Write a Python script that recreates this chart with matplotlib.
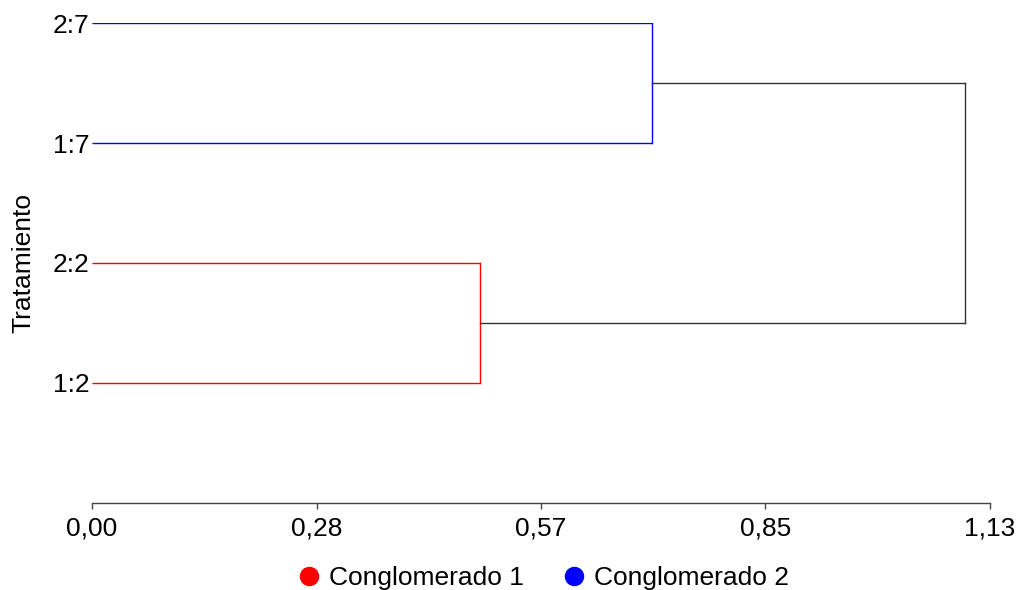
import numpy as np
import matplotlib
matplotlib.use("Agg")
import matplotlib.pyplot as plt
from matplotlib.lines import Line2D

# leaves from bottom to top, cluster of each leaf and merge heights
leaves = ["1:2", "2:2", "1:7", "2:7"]
leaf_cluster = [1, 1, 2, 2]
merge_c1 = 0.488    # 1:2 + 2:2
merge_c2 = 0.705    # 1:7 + 2:7
merge_root = 1.099  # both clusters
xticks = [0.0, 0.2825, 0.565, 0.8475, 1.13]
xtick_labels = ["0,00", "0,28", "0,57", "0,85", "1,13"]
cluster_names = ["Conglomerado 1", "Conglomerado 2"]
cluster_colors = {1: "#ff0000", 2: "#0000ff"}

plt.rcParams["font.family"] = ["Liberation Sans", "DejaVu Sans"]

fig = plt.figure(figsize=(10.19, 5.90), dpi=100)
ax = fig.add_axes([0.0903, 0.1475, 0.8812, 0.8135])

lw = 1.0
ypos = np.arange(1, len(leaves) + 1)

# leaf branches
for y, c in zip(ypos, leaf_cluster):
    h = merge_c1 if c == 1 else merge_c2
    ax.plot([0, h], [y, y], color=cluster_colors[c], lw=lw, solid_capstyle="butt")

# cluster verticals
y1 = ypos[np.array(leaf_cluster) == 1]
y2 = ypos[np.array(leaf_cluster) == 2]
ax.plot([merge_c1, merge_c1], [y1.min(), y1.max()], color=cluster_colors[1], lw=lw)
ax.plot([merge_c2, merge_c2], [y2.min(), y2.max()], color=cluster_colors[2], lw=lw)

# joining branches
m1, m2 = y1.mean(), y2.mean()
ax.plot([merge_c1, merge_root], [m1, m1], color="#333333", lw=lw)
ax.plot([merge_c2, merge_root], [m2, m2], color="#333333", lw=lw)
ax.plot([merge_root, merge_root], [m1, m2], color="#333333", lw=lw)

ax.set_xlim(0, 1.13)
ax.set_ylim(0, 4)
ax.set_xticks(xticks)
ax.set_xticklabels(xtick_labels)
ax.set_yticks(ypos)
ax.set_yticklabels(leaves)

for s in ["top", "right", "left"]:
    ax.spines[s].set_visible(False)
ax.spines["bottom"].set_color("#444444")
ax.spines["bottom"].set_linewidth(1.0)
ax.tick_params(axis="x", length=4, width=1.0, color="#444444", labelsize=19, pad=6)
ax.tick_params(axis="y", length=0, labelsize=19, pad=2)
ax.set_ylabel("Tratamiento", fontsize=19, labelpad=12)

handles = [Line2D([], [], ls="none", marker="o", markersize=13,
                  markerfacecolor=cluster_colors[k], markeredgecolor=cluster_colors[k])
           for k in (1, 2)]
fig.legend(handles, cluster_names, loc="center", bbox_to_anchor=(0.532, 0.02), ncol=2,
           frameon=False, fontsize=19, handletextpad=0.25, columnspacing=1.4,
           handlelength=1.0)

fig.savefig("out.png", dpi=100)
